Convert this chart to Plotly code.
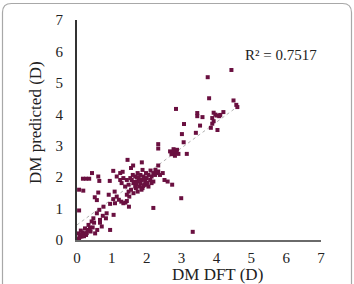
import plotly.graph_objects as go

dm_dft = [4.43, 3.75, 3.79, 4.49, 4.57, 4.60, 2.84, 3.45, 3.45, 3.60,
          3.92, 3.97, 4.01, 4.08, 3.88, 3.92, 3.88, 4.20, 4.11, 3.84,
          4.03, 3.53, 3.07, 3.01, 3.41, 3.06, 2.33, 2.33, 3.15, 2.67,
          2.74, 2.79, 2.84, 2.91, 2.81, 2.87, 2.77, 2.71, 1.45, 1.55,
          1.86, 1.04, 1.31, 1.61, 0.17, 0.26, 0.35, 0.43, 0.61, 0.64,
          0.94, 0.06, 0.18, 0.61, 0.91, 0.51, 0.57, 0.06, 2.99, 2.19,
          1.49, 0.95, 3.32, 1.05, 0.74, 0.83, 0.66, 0.71, 0.57, 0.47,
          0.42, 0.33, 0.23, 0.16, 0.09, 0.06, 0.18, 0.30, 0.37, 0.49,
          0.52, 0.39, 0.13, 0.26, 0.04, 0.11, 0.58, 0.66, 0.85, 1.08,
          1.14, 1.20, 1.33, 1.27, 1.39, 1.09, 1.04, 1.48, 1.55, 1.62,
          1.67, 1.73, 1.77, 1.82, 1.86, 1.91, 1.96, 2.00, 2.05, 2.10,
          2.14, 2.19, 2.24, 2.28, 2.33, 2.38, 2.46, 2.51, 2.60, 2.73,
          2.33, 1.57, 1.62, 1.69, 1.74, 1.79, 1.88, 1.93, 1.82, 1.74,
          1.67, 1.60, 1.53, 1.43, 1.33, 1.24, 1.14, 1.28, 1.38, 1.48,
          1.43, 2.05, 2.14, 2.19, 2.00, 1.98, 1.88, 2.11, 2.25, 1.43,
          1.50, 1.24, 0.95, 0.76, 0.64, 0.02, 0.08, 0.14, 0.20, 0.28,
          0.35, 0.45, 1.70, 1.78, 1.90, 1.65, 1.85, 2.02, 1.72, 1.95]
dm_pred = [5.41, 5.18, 4.51, 4.44, 4.30, 4.23, 4.17, 4.04, 3.94, 3.91,
           4.05, 3.99, 3.96, 3.94, 3.88, 3.78, 3.70, 4.07, 3.98, 3.57,
           3.50, 3.64, 3.69, 3.37, 3.41, 3.11, 3.05, 2.91, 2.74, 2.82,
           2.79, 2.82, 2.79, 2.74, 2.68, 2.87, 2.89, 2.73, 2.55, 2.29,
           2.47, 2.20, 2.17, 2.37, 1.95, 1.95, 1.95, 2.13, 2.02, 1.88,
           1.88, 1.60, 1.57, 1.51, 1.44, 1.36, 1.27, 0.94, 1.33, 1.02,
           1.06, 0.32, 0.26, 0.80, 0.77, 0.69, 0.55, 0.43, 0.85, 0.69,
           0.59, 0.48, 0.37, 0.24, 0.16, 0.05, 0.21, 0.32, 0.39, 0.55,
           0.21, 0.27, 0.11, 0.16, 0.21, 0.30, 0.32, 0.64, 0.85, 1.54,
           1.38, 1.28, 1.17, 1.22, 1.19, 1.17, 1.30, 1.76, 1.60, 1.49,
           1.70, 1.86, 1.97, 1.81, 1.91, 2.02, 1.86, 1.97, 2.07, 1.91,
           2.02, 2.13, 2.07, 2.13, 2.18, 2.07, 2.13, 1.91, 1.86, 1.76,
           2.37, 1.91, 1.81, 1.65, 1.54, 1.70, 1.65, 1.76, 2.07, 2.13,
           2.02, 2.07, 1.97, 1.91, 1.97, 1.91, 2.02, 1.81, 1.70, 1.54,
           1.44, 1.70, 1.81, 1.86, 1.76, 2.13, 2.23, 2.21, 2.23, 1.24,
           1.38, 2.13, 1.15, 1.06, 0.96, 0.02, 0.10, 0.18, 0.12, 0.22,
           0.30, 0.40, 1.78, 1.92, 1.72, 1.85, 1.60, 1.82, 2.00, 1.95]

trend_x = [0.0, 4.6]
trend_y = [0.48, 4.24]

axis_ticks = [0, 1, 2, 3, 4, 5, 6, 7]
r2_label = "R² = 0.7517"
x_title = "DM DFT (D)"
y_title = "DM predicted (D)"

W, H = 354, 284
L, R, T, B = 77, 33, 20, 44
pw, ph = W - L - R, H - T - B

def px(x):
    return (x - L) / pw

def py(y):
    return (H - B - y) / ph

SERIF = "Liberation Serif, Times New Roman, serif"

fig = go.Figure()
fig.add_trace(go.Scatter(x=trend_x, y=trend_y, mode="lines",
                         line=dict(color="#b0b0b0", width=1, dash="dot"),
                         hoverinfo="skip", showlegend=False))
fig.add_trace(go.Scatter(x=dm_dft, y=dm_pred, mode="markers",
                         marker=dict(symbol="square", size=4, color="#6a1040"),
                         showlegend=False))

# rounded border
x0, x1, y0, y1, r = 2.5, 351.5, 3.5, 300, 9
path = (f"M {px(x0+r)},{py(y0)} L {px(x1-r)},{py(y0)} "
        f"Q {px(x1)},{py(y0)} {px(x1)},{py(y0+r)} L {px(x1)},{py(y1)} "
        f"L {px(x0)},{py(y1)} L {px(x0)},{py(y0+r)} "
        f"Q {px(x0)},{py(y0)} {px(x0+r)},{py(y0)} Z")
fig.add_shape(type="path", path=path, xref="paper", yref="paper",
              line=dict(color="#a8a8a8", width=1.2), layer="below")

def label(text, x, y, size, angle=0):
    fig.add_annotation(text=text, x=px(x), y=py(y), xref="paper", yref="paper",
                       xanchor="center", yanchor="middle", showarrow=False,
                       textangle=angle,
                       font=dict(family=SERIF, size=size, color="#222"))

label(r2_label, 281, 55, 15)
label(x_title, 217, 274, 17)
label(y_title, 36, 123, 17, -90)

fig.update_layout(
    width=W, height=H,
    margin=dict(l=L, r=R, t=T, b=B),
    paper_bgcolor="white", plot_bgcolor="white",
    xaxis=dict(range=[0, 7], tickvals=axis_ticks, showgrid=False, zeroline=False,
               showline=True, linecolor="#6a6a6a", linewidth=2, ticks="",
               ticklabelstandoff=3,
               tickfont=dict(family=SERIF, size=15, color="#222")),
    yaxis=dict(range=[0, 7], tickvals=axis_ticks, showgrid=False, zeroline=False,
               showline=True, linecolor="#333", linewidth=2, ticks="",
               ticklabelstandoff=9,
               tickfont=dict(family=SERIF, size=15, color="#222")),
)
fig.write_html("out.html")
